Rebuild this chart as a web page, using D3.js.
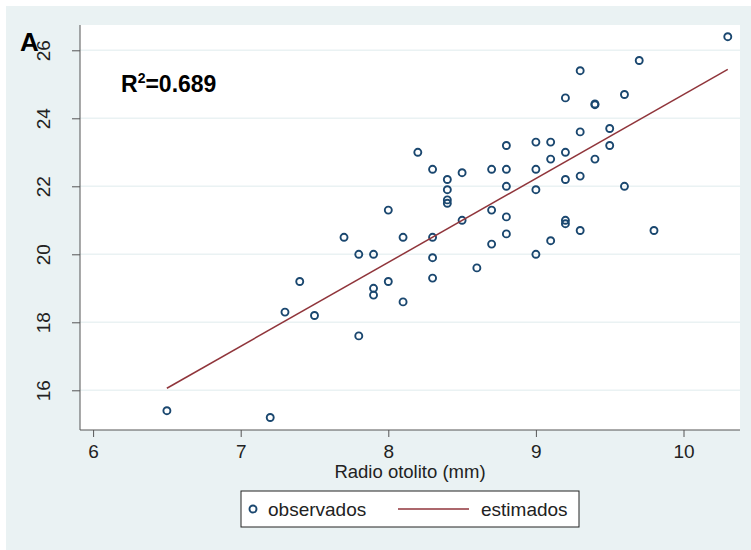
<!DOCTYPE html>
<html>
<head>
<meta charset="utf-8">
<script src="https://cdn.jsdelivr.net/npm/d3@7"></script>
<style>
  body { margin: 0; background: #fff; }
  svg { display: block; font-family: "Liberation Sans", Arial, sans-serif; }
</style>
</head>
<body>
<svg width="751" height="550"></svg>
<script>
// datos observados (radio del otolito en mm, talla)
const radioObs = [
  6.5, 7.2, 7.3, 7.4, 7.5, 7.7, 7.8, 7.8, 7.9, 7.9, 7.9, 8.0, 8.0, 8.1, 8.1,
  8.2, 8.3, 8.3, 8.3, 8.3, 8.4, 8.4, 8.4, 8.4, 8.5, 8.5, 8.6, 8.7, 8.7, 8.7,
  8.8, 8.8, 8.8, 8.8, 8.8, 9.0, 9.0, 9.0, 9.0, 9.1, 9.1, 9.1, 9.2, 9.2, 9.2,
  9.2, 9.2, 9.3, 9.3, 9.3, 9.3, 9.4, 9.4, 9.4, 9.5, 9.5, 9.6, 9.6, 9.7, 9.8, 10.3
];
const tallaObs = [
  15.4, 15.2, 18.3, 19.2, 18.2, 20.5, 20.0, 17.6, 20.0, 19.0, 18.8, 21.3, 19.2, 20.5, 18.6,
  23.0, 22.5, 20.5, 19.9, 19.3, 22.2, 21.9, 21.6, 21.5, 22.4, 21.0, 19.6, 22.5, 21.3, 20.3,
  23.2, 22.5, 22.0, 21.1, 20.6, 23.3, 22.5, 21.9, 20.0, 23.3, 22.8, 20.4, 24.6, 23.0, 22.2,
  21.0, 20.9, 25.4, 23.6, 22.3, 20.7, 24.4, 24.42, 22.8, 23.7, 23.2, 24.7, 22.0, 25.7, 20.7, 26.4
];

// recta estimada (extremos)
const radioEst = [6.5, 10.3];
const tallaEst = [16.06, 25.44];

const xTicks = [6, 7, 8, 9, 10];
const yTicks = [16, 18, 20, 22, 24, 26];
const r2Text = "0.689";

const svg = d3.select("svg");
const W = 751, H = 550;
const plot = { left: 80, right: 740, top: 25, bottom: 430 };

const x = d3.scaleLinear().domain([6, 10]).range([93.1, 683.5]);
const y = d3.scaleLinear().domain([16, 26]).range([390.3, 50.3]);

// fondo
svg.append("rect").attr("width", W).attr("height", H).attr("fill", "#fff");
svg.append("rect").attr("x", 6).attr("y", 6).attr("width", W - 6).attr("height", H - 6)
  .attr("fill", "#eaf2f3");
svg.append("rect")
  .attr("x", plot.left).attr("y", plot.top)
  .attr("width", plot.right - plot.left).attr("height", plot.bottom - plot.top)
  .attr("fill", "#fff");

// grilla
svg.append("g").selectAll("line").data(yTicks).enter().append("line")
  .attr("x1", plot.left).attr("x2", plot.right)
  .attr("y1", d => y(d)).attr("y2", d => y(d))
  .attr("stroke", "#eaf2f3").attr("stroke-width", 1.5);

// ejes
const axisColor = "#555";
const yAxis = svg.append("g").attr("transform", `translate(${plot.left},0)`)
  .call(d3.axisLeft(y).tickValues(yTicks).tickSize(8).tickFormat(d3.format("d")));
yAxis.select(".domain").attr("d", `M0,${plot.top}V${plot.bottom}`).attr("stroke", axisColor);
yAxis.selectAll(".tick line").attr("stroke", axisColor);
yAxis.selectAll(".tick text")
  .attr("x", null).attr("dy", null)
  .attr("transform", "translate(-30,0) rotate(-90)")
  .attr("text-anchor", "middle")
  .attr("font-size", 19).attr("fill", "#222")
  .attr("font-family", "Liberation Sans, Arial, sans-serif");

const xAxis = svg.append("g").attr("transform", `translate(0,${plot.bottom})`)
  .call(d3.axisBottom(x).tickValues(xTicks).tickSize(7).tickFormat(d3.format("d")));
xAxis.select(".domain").attr("d", `M${plot.left},0H${plot.right}`).attr("stroke", axisColor);
xAxis.selectAll(".tick line").attr("stroke", axisColor);
xAxis.selectAll(".tick text")
  .attr("y", 28).attr("dy", null)
  .attr("font-size", 19).attr("fill", "#222")
  .attr("font-family", "Liberation Sans, Arial, sans-serif");

svg.append("text")
  .attr("x", (plot.left + plot.right) / 2).attr("y", 478)
  .attr("text-anchor", "middle").attr("font-size", 18.5).attr("fill", "#222")
  .text("Radio otolito (mm)");

// puntos observados
const obs = radioObs.map((v, i) => ({ x: v, y: tallaObs[i] }));
const navy = "#1a476f", maroon = "#90353b";

svg.append("g").selectAll("circle").data(obs).enter().append("circle")
  .attr("cx", d => x(d.x)).attr("cy", d => y(d.y))
  .attr("r", 3.5)
  .attr("fill", "none").attr("stroke", navy).attr("stroke-width", 1.9);

// recta estimada
const est = radioEst.map((v, i) => ({ x: v, y: tallaEst[i] }));
svg.append("path").datum(est)
  .attr("d", d3.line().x(d => x(d.x)).y(d => y(d.y)))
  .attr("fill", "none").attr("stroke", maroon).attr("stroke-width", 1.5);

// textos
const r2 = svg.append("text").attr("x", 121).attr("y", 92)
  .attr("font-size", 23).attr("font-weight", "bold").attr("fill", "#000");
r2.append("tspan").text("R");
r2.append("tspan").attr("font-size", 14).attr("dy", -9).text("2");
r2.append("tspan").attr("dy", 9).text("=" + r2Text);

svg.append("text").attr("x", 20).attr("y", 51)
  .attr("font-size", 26).attr("font-weight", "bold").attr("fill", "#000")
  .text("A");
// la etiqueta 26 queda por encima de la A
svg.node().appendChild(yAxis.node());

// leyenda
const lg = svg.append("g");
lg.append("rect").attr("x", 241).attr("y", 491).attr("width", 338).attr("height", 36)
  .attr("fill", "#fff").attr("stroke", "#222").attr("stroke-width", 1);
lg.append("circle").attr("cx", 253).attr("cy", 509).attr("r", 3.5)
  .attr("fill", "none").attr("stroke", navy).attr("stroke-width", 1.9);
lg.append("text").attr("x", 268).attr("y", 516).attr("font-size", 19).attr("fill", "#222")
  .text("observados");
lg.append("line").attr("x1", 398).attr("x2", 469).attr("y1", 509).attr("y2", 509)
  .attr("stroke", maroon).attr("stroke-width", 1.5);
lg.append("text").attr("x", 481).attr("y", 516).attr("font-size", 19).attr("fill", "#222")
  .text("estimados");
</script>
</body>
</html>
